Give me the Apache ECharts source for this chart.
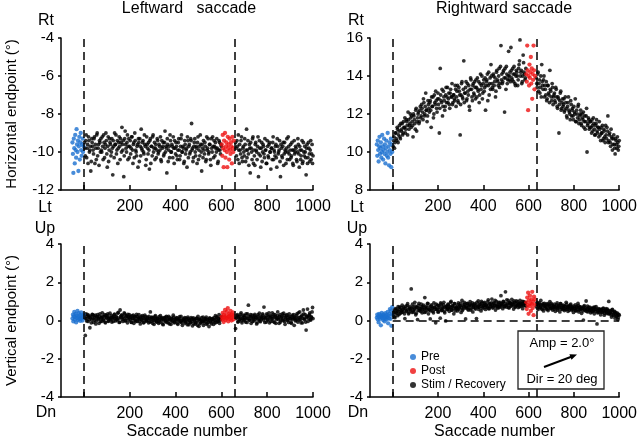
<!DOCTYPE html>
<html>
<head>
<meta charset="utf-8">
<script src="https://cdn.jsdelivr.net/npm/echarts@6/dist/echarts.min.js"></script>
<style>
  html, body { margin: 0; padding: 0; background: #fff; }
  #chart { width: 640px; height: 444px; }
</style>
</head>
<body>
<div id="chart"></div>
<script>
// saccade numbers used on the x axes
var xTicks = [0, 200, 400, 600, 800, 1000];
var xTickLabels = [200, 400, 600, 800, 1000];

// ---- Leftward saccade, horizontal endpoint (deg) ----
// pre: saccades -50..-2 (every 2nd), post: 602..654 (every 2nd)
var leftHPre = [-9.5,-10.1,-11.1,-9.3,-9.8,-10.6,-9.1,-9.9,-10.3,-8.8,-9.6,-10.0,-9.4,-11.0,-9.7,-9.2,-10.4,-9.5,-9.0,-9.9,-10.2,-9.6,-9.3,-10.0,-9.7];
var leftHPost = [-9.6,-10.2,-9.1,-9.8,-10.8,-9.4,-9.9,-9.0,-10.3,-9.7,-9.5,-10.0,-10.8,-9.2,-9.8,-9.6,-10.4,-9.3,-9.9,-10.1,-9.5,-9.7,-10.6,-9.2,-9.8,-10.0,-9.4];
// stim: saccades 2..598 (every 4th); stim2: 4..600; recovery: 662..998; recovery2: 664..1000
var leftHStim = [
  -9.5,-10.2,-9.1,-9.8,-10.6,-9.4,-9.9,-11.0,-9.3,-9.7,
  -10.1,-9.2,-9.6,-10.4,-9.0,-9.8,-10.7,-9.5,-9.3,-10.0,
  -9.7,-9.1,-10.3,-9.6,-9.4,-10.8,-9.2,-9.9,-9.5,-10.2,
  -9.3,-11.2,-9.7,-9.0,-9.6,-10.1,-9.4,-9.8,-9.2,-10.4,
  -9.5,-8.7,-9.9,-11.3,-9.3,-9.6,-10.0,-9.1,-9.7,-10.3,
  -9.4,-9.8,-9.2,-10.6,-9.5,-9.0,-9.9,-10.2,-9.6,-9.3,
  -10.5,-9.7,-8.8,-9.9,-9.4,-10.1,-9.6,-10.7,-9.2,-9.8,
  -9.5,-10.9,-9.3,-9.7,-10.2,-9.1,-9.8,-10.4,-9.6,-9.9,
  -9.4,-10.0,-9.7,-9.2,-10.5,-9.8,-9.5,-10.1,-8.9,-9.7,
  -11.1,-9.6,-9.9,-10.3,-9.4,-10.0,-9.7,-9.2,-10.6,-9.8,
  -9.5,-10.2,-9.9,-9.3,-10.4,-9.7,-9.1,-10.0,-9.8,-10.5,
  -9.6,-9.9,-10.8,-9.4,-9.7,-10.1,-9.3,-8.5,-9.8,-10.3,
  -9.5,-10.0,-9.7,-10.6,-9.2,-9.9,-10.2,-9.6,-11.0,-9.8,
  -9.4,-10.1,-9.7,-10.4,-9.9,-9.3,-10.0,-9.6,-10.7,-9.8,
  -9.2,-10.3,-9.7,-9.5,-10.0,-9.8,-10.5,-9.4,-9.9,-9.6
];
var leftHStim2 = [
  -9.8,-9.4,-10.3,-9.6,-9.2,-10.0,-9.7,-10.5,-9.5,-9.9,
  -9.3,-10.6,-9.8,-9.1,-10.2,-9.6,-9.4,-10.0,-9.9,-9.2,
  -10.4,-9.5,-9.8,-9.0,-10.1,-9.7,-10.5,-9.3,-9.6,-10.0,
  -9.8,-9.4,-10.3,-9.6,-9.1,-9.9,-10.6,-9.5,-9.7,-9.3,
  -10.0,-9.6,-9.4,-10.2,-8.9,-9.8,-9.5,-10.4,-9.3,-9.7,
  -10.1,-9.2,-9.9,-9.6,-10.3,-9.4,-10.0,-9.7,-10.8,-9.5,
  -9.3,-10.2,-9.8,-9.5,-10.0,-9.1,-9.7,-10.4,-9.6,-10.1,
  -9.9,-9.4,-10.6,-9.7,-9.2,-10.0,-9.5,-9.8,-10.3,-9.3,
  -10.1,-9.6,-9.9,-10.4,-9.4,-9.7,-10.2,-9.5,-10.0,-9.8,
  -9.3,-10.5,-9.7,-9.1,-10.0,-9.6,-10.3,-9.8,-9.4,-10.1,
  -9.7,-10.4,-9.5,-9.9,-10.2,-9.3,-10.0,-9.7,-10.6,-9.4,
  -10.1,-9.8,-9.2,-10.3,-9.6,-10.0,-9.4,-9.9,-10.5,-9.7,
  -9.3,-10.2,-9.8,-9.5,-10.4,-9.7,-9.1,-10.0,-9.6,-10.3,
  -9.9,-9.5,-10.5,-9.2,-9.8,-10.1,-9.6,-10.4,-9.3,-10.0,
  -9.7,-9.4,-10.2,-9.8,-9.3,-10.6,-9.9,-9.5,-10.1,-9.7
];
var leftHRec = [
  -9.5,-10.2,-9.7,-9.1,-10.6,-9.9,-9.4,-10.3,-9.8,-10.0,
  -9.3,-10.5,-8.8,-9.9,-10.1,-9.6,-11.1,-9.8,-10.4,-9.2,
  -9.9,-10.7,-9.5,-10.0,-9.7,-11.3,-9.4,-10.2,-9.8,-10.5,
  -9.6,-10.1,-9.3,-9.9,-10.6,-9.7,-10.3,-9.5,-10.0,-9.8,
  -10.4,-9.2,-9.9,-10.2,-9.6,-10.8,-9.7,-10.0,-9.4,-11.3,
  -9.8,-10.3,-9.5,-10.1,-9.9,-10.6,-9.3,-10.0,-9.7,-10.4,
  -9.6,-10.2,-9.9,-10.7,-9.4,-10.0,-9.8,-10.5,-9.3,-10.1,
  -9.7,-10.4,-9.9,-10.6,-9.5,-10.2,-10.0,-11.2,-9.6,-10.3,
  -9.8,-10.5,-9.4,-10.1,-10.6
];
var leftHRec2 = [
  -9.8,-9.4,-10.4,-9.9,-9.6,-10.1,-9.2,-10.5,-9.7,-10.2,
  -9.6,-9.9,-10.3,-9.4,-10.7,-9.8,-9.5,-10.0,-9.3,-10.6,
  -10.2,-9.6,-9.9,-10.4,-9.2,-10.1,-9.8,-10.8,-9.5,-10.0,
  -9.7,-10.3,-9.9,-10.6,-9.4,-10.2,-9.6,-10.0,-10.9,-9.8,
  -9.5,-10.4,-10.0,-9.7,-10.3,-9.3,-10.1,-9.9,-10.5,-9.6,
  -10.2,-9.7,-10.7,-9.5,-10.0,-9.8,-10.4,-9.2,-10.1,-9.9,
  -10.3,-9.5,-10.6,-9.9,-10.1,-9.7,-10.4,-10.0,-9.6,-10.8,
  -9.9,-10.2,-9.4,-10.5,-10.0,-9.7,-10.3,-9.8,-10.6,-9.5,
  -10.1,-9.9,-10.4,-9.6,-10.2
];

// ---- Rightward saccade, horizontal endpoint (deg) ----
// pre: saccades -70..-2 (every 2nd), post: 590..628 (every 2nd)
var rightHPre = [10.4,9.8,10.6,10.1,9.5,10.3,10.8,9.9,10.2,10.5,9.7,10.0,10.9,10.3,9.6,10.1,10.7,9.9,10.4,9.4,10.2,10.6,9.8,10.0,11.0,9.7,10.3,9.3,10.5,10.1,9.9,10.7,9.2,10.4,10.0];
var rightHPost = [14.1,13.7,15.6,14.3,12.2,14.0,13.5,14.6,13.9,14.2,15.0,13.6,14.4,12.8,14.1,13.8,15.6,14.3,13.3,14.0];
// stim: 2..586, stim2: 4..588, recovery: 634..998, recovery2: 636..1000 (every 4th)
var rightHStim = [
  10.3,10.8,10.5,11.0,10.6,11.2,10.9,11.4,10.7,11.1,
  11.5,11.0,11.3,11.8,11.2,11.6,10.9,11.7,11.4,12.0,
  11.3,11.6,10.8,11.9,11.5,12.2,11.1,11.8,12.1,11.6,
  12.4,11.9,12.3,11.7,12.6,12.0,13.1,12.2,11.9,12.5,
  12.1,12.7,11.3,12.4,12.9,12.0,12.6,13.2,12.3,12.8,
  12.5,11.0,14.4,12.7,13.3,12.4,12.9,12.2,13.0,12.6,
  13.4,12.8,12.5,13.1,12.9,13.6,12.6,13.0,12.7,13.3,
  12.9,13.5,12.6,13.2,10.9,13.0,13.7,12.8,14.8,13.1,
  13.4,12.7,13.6,13.0,12.4,13.3,13.8,12.9,13.5,13.1,
  13.7,12.8,13.4,13.9,13.2,12.6,13.6,13.3,14.0,13.1,
  13.8,13.4,12.2,13.7,14.1,13.5,13.0,13.9,14.6,13.6,
  13.3,14.0,13.7,12.9,14.2,13.8,13.5,14.4,13.6,15.6,
  14.1,13.7,14.3,12.1,13.9,14.5,13.6,14.0,13.8,14.2,
  15.5,13.9,14.4,13.7,14.1,13.5,14.3,14.0,13.8,14.6,
  15.9,14.2,13.6,14.0,14.7,14.1,13.9
];
var rightHStim2 = [
  10.6,10.2,11.0,10.7,11.3,10.5,11.1,10.8,11.5,11.2,
  10.9,11.6,11.3,11.0,11.7,11.4,12.1,11.2,11.5,11.8,
  11.9,11.4,12.0,11.7,11.2,12.3,11.6,12.0,11.5,12.2,
  11.8,12.5,12.1,12.8,11.9,12.4,12.2,11.6,12.7,12.3,
  12.6,12.2,12.9,12.4,11.8,13.0,12.5,12.7,12.1,13.1,
  12.8,12.3,13.0,12.6,11.9,13.2,12.7,12.4,13.4,12.9,
  12.6,13.1,12.3,13.3,12.9,12.5,13.0,12.8,13.5,12.4,
  13.2,12.7,13.4,13.0,12.5,13.6,12.9,13.3,12.6,13.1,
  13.7,12.8,13.2,13.5,12.2,13.9,13.3,12.7,13.6,13.0,
  13.4,13.8,12.9,13.3,13.7,13.0,14.1,13.5,12.8,13.6,
  13.2,13.9,13.5,13.8,12.7,14.2,13.6,13.3,14.0,13.4,
  14.1,13.5,13.9,13.2,14.3,13.7,14.0,13.4,14.5,13.8,
  13.6,14.2,13.9,14.4,13.3,14.1,13.8,15.3,14.0,13.7,
  14.3,13.8,14.1,14.5,13.6,14.0,14.2,13.5,14.4,14.8,
  14.0,14.3,13.7,15.1,14.2,13.8,14.4
];
var rightHRec = [
  13.9,13.4,14.2,13.6,13.1,14.0,14.6,13.5,13.8,12.9,
  13.3,13.7,12.8,13.5,13.0,14.3,13.2,12.7,13.4,12.9,
  13.1,12.6,13.3,12.4,12.9,11.0,12.7,13.2,12.3,12.8,
  12.5,12.1,12.9,12.3,11.8,12.6,12.2,12.0,12.7,11.9,
  12.3,11.7,12.1,12.8,11.6,12.0,12.4,11.5,11.9,12.2,
  11.4,11.8,12.1,11.6,11.2,11.9,10.0,11.5,11.7,11.3,
  11.6,11.0,11.4,11.8,11.2,10.9,11.5,11.1,11.3,10.8,
  11.2,10.6,11.0,11.4,10.7,11.1,10.5,10.9,11.3,11.9,
  10.6,11.0,10.3,10.8,10.1,10.7,10.4,9.9,10.6,10.2,
  10.5,10.3
];
var rightHRec2 = [
  13.6,14.1,13.2,13.8,13.4,12.9,13.7,13.3,14.0,13.5,
  13.0,12.7,13.5,13.1,12.6,13.3,12.9,13.6,12.5,13.0,
  12.7,13.4,12.9,12.3,12.8,12.5,13.1,12.2,12.6,12.4,
  12.8,12.2,12.6,11.9,12.4,12.9,12.1,11.7,12.5,12.2,
  11.9,12.4,12.0,11.6,12.2,11.8,12.5,11.7,12.0,11.5,
  12.0,11.7,11.3,11.9,11.6,12.3,11.4,11.8,11.2,11.6,
  11.3,11.7,11.1,11.5,10.9,11.4,11.7,11.0,11.3,11.6,
  10.9,11.3,11.0,10.6,11.2,10.8,11.4,10.7,11.1,10.5,
  10.9,10.5,11.2,10.7,10.4,10.9,10.2,10.7,10.4,10.8,
  10.1,10.6
];

// ---- Leftward saccade, vertical endpoint (deg) ----
var leftVPre = [0.10,0.30,-0.05,0.22,0.45,0.05,0.18,0.35,-0.10,0.25,0.12,0.50,0.02,0.20,0.38,0.08,0.28,-0.02,0.15,0.42,0.10,0.25,0.00,0.18,0.32];
var leftVPost = [0.20,0.05,0.40,0.12,-0.08,0.30,0.18,0.55,0.02,0.25,0.10,0.45,0.15,0.65,-0.05,0.22,0.35,0.08,0.28,0.50,0.12,0.00,0.32,0.18,0.42,0.05,0.25];
var leftVStim = [
  0.25,-0.78,0.10,0.32,-0.05,0.18,-0.38,0.22,0.05,0.30,
  -0.10,0.15,0.28,-0.02,0.20,0.08,-0.15,0.35,0.12,-0.05,
  0.22,0.02,0.30,-0.12,0.15,0.25,-0.04,0.10,0.38,0.05,
  -0.08,0.20,0.12,0.33,-0.02,0.18,0.06,0.42,-0.10,0.55,
  0.15,0.28,-0.05,0.10,0.35,0.00,0.22,-0.12,0.18,0.30,
  0.05,-0.08,0.25,0.12,-0.15,0.20,0.02,0.32,-0.05,0.14,
  0.08,-0.18,0.22,0.00,0.15,-0.10,0.28,0.05,-0.02,0.18,
  -0.12,0.10,0.45,-0.05,0.15,0.02,-0.20,0.20,0.08,-0.08,
  0.12,-0.15,0.05,0.25,-0.02,0.10,-0.22,0.15,0.00,0.18,
  -0.10,0.06,0.22,-0.18,0.02,0.12,-0.05,0.28,-0.12,0.08,
  -0.02,0.15,-0.20,0.05,0.20,-0.08,0.00,-0.25,0.10,0.02,
  -0.15,0.12,-0.05,0.18,-0.22,0.03,-0.10,0.08,-0.28,0.14,
  0.00,-0.18,0.10,-0.08,0.22,-0.30,0.05,-0.12,0.15,-0.02,
  -0.25,0.08,-0.05,0.18,-0.15,0.02,-0.32,0.12,-0.08,0.05,
  0.10,-0.20,0.02,0.25,-0.10,0.15,-0.05,0.30,0.00,0.12
];
var leftVStim2 = [
  0.12,0.35,-0.02,0.20,0.28,0.05,0.15,-0.12,0.32,0.10,
  0.25,0.02,-0.18,0.18,0.30,0.08,0.22,-0.05,0.15,0.40,
  0.05,0.20,-0.08,0.28,0.12,0.35,-0.02,0.18,0.08,0.25,
  0.15,-0.05,0.30,0.10,0.22,0.02,0.38,0.12,-0.08,0.20,
  0.28,0.05,0.18,0.40,-0.02,0.25,0.12,0.32,0.02,0.15,
  0.20,-0.10,0.10,0.28,0.00,0.18,-0.05,0.22,0.08,0.30,
  -0.05,0.15,0.05,0.25,-0.12,0.10,0.20,-0.02,0.12,0.02,
  0.22,-0.08,0.08,0.18,-0.15,0.12,0.00,0.25,-0.05,0.10,
  -0.02,0.20,-0.10,0.08,0.15,-0.18,0.05,0.12,-0.05,0.22,
  0.02,-0.12,0.15,0.05,-0.20,0.10,0.00,0.18,-0.08,0.05,
  0.12,-0.15,0.02,0.10,-0.05,0.22,-0.12,0.05,-0.02,0.15,
  -0.08,0.05,-0.22,0.10,0.00,-0.12,0.15,-0.05,0.08,-0.18,
  0.05,-0.10,0.12,-0.25,0.02,0.08,-0.15,0.00,-0.05,0.18,
  -0.12,0.02,0.10,-0.20,0.05,-0.08,0.12,-0.02,-0.18,0.08,
  -0.05,0.15,-0.12,0.05,0.20,-0.02,0.10,-0.15,0.08,0.22
];
var leftVRec = [
  -0.42,0.15,0.30,-0.05,0.22,0.08,0.40,-0.12,0.18,0.05,
  0.25,-0.08,0.12,0.35,0.80,0.02,0.20,-0.15,0.28,0.10,
  -0.02,0.32,0.15,-0.18,0.22,0.05,0.38,-0.06,0.18,0.12,
  0.28,0.70,-0.10,0.15,0.35,0.02,0.20,-0.12,0.25,0.08,
  0.40,-0.05,0.18,0.30,-0.15,0.12,0.45,0.05,0.22,-0.08,
  0.15,0.35,0.00,0.25,-0.20,0.10,0.30,0.05,-0.10,0.20,
  0.08,-0.15,0.28,0.12,-0.25,0.18,0.02,0.35,-0.08,0.15,
  0.45,0.05,0.22,-0.12,0.55,0.10,0.30,-0.50,0.18,-0.05,
  0.25,0.40,0.02,0.15,0.68
];
var leftVRec2 = [
  0.10,0.25,-0.08,0.18,0.05,0.32,-0.02,0.12,0.28,0.00,
  0.15,0.35,-0.10,0.08,0.22,0.02,0.30,0.12,-0.05,0.18,
  0.25,0.05,0.15,-0.12,0.30,0.10,-0.02,0.22,0.08,0.35,
  0.02,0.18,0.12,-0.08,0.28,0.05,0.40,0.15,-0.05,0.22,
  0.10,0.32,-0.10,0.20,0.05,0.25,0.12,-0.15,0.30,0.02,
  0.22,0.08,0.38,-0.05,0.15,0.25,0.00,0.18,0.35,0.10,
  -0.10,0.20,0.05,0.30,0.12,-0.02,0.25,0.08,0.40,0.02,
  0.18,-0.12,0.28,0.10,0.35,0.05,-0.08,0.22,0.60,0.12,
  0.30,0.05,0.20,0.45,0.10
];

// ---- Rightward saccade, vertical endpoint (deg) ----
var rightVPre = [0.15,0.30,0.05,0.22,-0.10,0.35,0.18,0.08,0.28,-0.25,0.20,0.40,0.12,0.25,0.02,0.32,0.15,-0.05,0.22,0.38,0.10,0.28,0.05,0.18,0.45,-0.15,0.25,0.12,0.35,0.60,0.08,0.50,-0.28,0.30,0.70];
var rightVPost = [0.95,0.60,1.20,0.80,1.45,0.35,1.05,0.75,1.30,0.90,0.50,1.10,0.85,1.50,0.65,1.00,0.28,1.25,0.82,1.10];
var rightVStim = [
  0.30,0.55,0.15,0.42,0.60,0.25,0.48,0.70,0.38,0.52,
  0.80,0.45,0.62,0.10,0.75,0.50,0.88,0.35,0.65,0.58,
  1.65,0.42,0.70,0.55,0.95,0.30,0.68,0.05,0.78,0.52,
  0.62,0.85,0.40,0.72,0.58,1.20,0.45,0.66,0.90,0.35,
  0.55,0.08,0.75,0.62,0.48,0.92,0.68,-0.12,0.58,0.80,
  0.45,0.70,0.12,0.85,0.55,0.65,0.95,0.40,-0.02,0.72,
  0.60,0.82,0.48,0.68,1.00,0.55,0.75,0.35,0.88,0.62,
  0.70,0.50,0.92,0.65,0.78,0.42,1.05,0.60,0.72,0.85,
  0.08,0.68,0.90,0.55,0.78,0.98,0.62,0.82,0.45,0.72,
  0.88,0.60,0.10,0.75,1.02,0.68,0.85,0.50,0.92,0.70,
  0.78,0.95,0.58,0.82,0.70,1.08,0.62,0.88,0.75,1.12,
  0.65,0.92,0.78,0.55,1.00,0.72,0.85,0.68,0.95,1.30,
  0.80,0.62,0.98,0.75,1.50,0.70,0.88,1.05,0.66,0.92,
  0.78,1.10,0.85,0.60,0.95,0.72,1.02,0.82,0.68,0.90,
  1.05,0.75,0.88,0.62,0.98,0.80,0.92
];
var rightVStim2 = [
  0.45,0.20,0.62,0.38,0.50,0.72,0.32,0.58,0.68,0.42,
  0.55,0.70,0.35,0.62,0.48,0.78,0.58,0.40,0.72,0.50,
  0.65,0.85,0.45,0.60,0.75,0.38,0.68,0.52,0.90,0.62,
  0.48,0.70,0.58,0.80,0.42,0.65,0.75,0.55,0.88,0.60,
  0.72,0.50,0.82,0.65,0.40,0.70,0.58,0.85,0.62,0.45,
  0.78,0.60,0.92,0.52,0.70,0.82,0.48,0.68,0.75,0.58,
  0.85,0.62,0.72,0.95,0.55,0.78,0.65,0.88,0.50,0.70,
  0.62,0.82,0.58,0.75,0.90,0.68,0.52,0.80,0.95,0.65,
  0.75,0.88,0.60,0.72,0.85,0.55,0.78,0.92,0.68,0.82,
  0.65,0.80,0.95,0.70,0.58,0.85,0.75,1.00,0.62,0.78,
  0.90,0.68,0.82,0.75,0.98,0.62,0.85,0.72,0.92,0.80,
  0.70,0.88,1.05,0.75,0.82,0.65,0.95,0.78,0.72,0.88,
  0.85,1.00,0.72,0.90,0.78,1.08,0.82,0.68,0.95,0.88,
  0.75,0.92,0.82,1.02,0.70,0.88,0.78,0.98,0.85,0.72,
  0.90,0.82,1.00,0.78,0.88,0.95,0.75
];
var rightVRec = [
  0.72,0.95,0.58,0.85,0.68,1.05,0.62,0.80,0.50,0.90,
  0.75,0.60,0.88,0.52,0.78,0.98,0.65,0.82,0.55,0.72,
  0.85,0.48,0.70,0.92,0.62,0.78,0.45,0.88,0.68,0.58,
  0.80,0.52,0.72,0.95,0.60,0.48,0.75,0.65,0.85,0.55,
  0.70,0.42,0.62,0.82,0.50,0.68,0.90,0.45,0.72,0.58,
  0.38,0.65,0.02,0.78,0.52,1.02,0.60,0.45,0.70,0.55,
  0.40,0.62,0.48,0.68,0.35,0.58,0.72,-0.18,0.50,0.42,
  0.60,0.30,0.55,0.45,0.65,0.28,0.50,0.62,0.38,0.52,
  1.00,0.35,0.48,0.18,0.58,0.30,0.45,0.12,0.40,0.25,
  0.05,0.32
];
var rightVRec2 = [
  0.85,0.65,0.78,0.92,0.70,0.82,0.58,0.88,0.75,0.65,
  0.82,0.70,0.60,0.85,0.72,0.62,0.90,0.68,0.78,0.60,
  0.72,0.65,0.82,0.55,0.75,0.68,0.88,0.60,0.78,0.70,
  0.62,0.75,0.58,0.85,0.68,0.72,0.55,0.80,0.62,0.70,
  0.58,0.75,0.65,0.52,0.72,0.60,0.78,0.55,0.65,0.70,
  0.62,0.50,0.72,0.58,0.65,0.48,0.75,0.60,0.52,0.68,
  0.55,0.45,0.62,0.52,0.70,0.48,0.58,0.40,0.62,0.55,
  0.48,0.58,0.42,0.62,0.50,0.38,0.55,0.45,0.60,0.35,
  0.52,0.40,0.30,0.55,0.42,0.25,0.48,0.35,0.22,0.38,
  0.15,0.28
];

var FONT = '"Liberation Sans", Arial, sans-serif';
var BLUE = '#1a6fd0';
var RED = '#ee1111';

// pair each value with its saccade number
function seq(start, step, ys) {
  return ys.map(function (y, i) { return [start + i * step, y]; });
}

var grids = [
  { left: 61, top: 38, width: 252, height: 152 },
  { left: 370, top: 38, width: 253, height: 152 },
  { left: 61, top: 244, width: 252, height: 153 },
  { left: 370, top: 244, width: 253, height: 153 }
];

function xAxisFor(i, withName) {
  return {
    type: 'value', gridIndex: i, min: -100, max: 1000,
    name: withName ? 'Saccade number' : '',
    nameLocation: 'middle', nameGap: 27,
    nameTextStyle: { fontFamily: FONT, fontSize: 16, color: '#000' },
    axisLine: { onZero: false, lineStyle: { color: '#000', width: 1.5 } },
    axisTick: { inside: true, length: 5, customValues: xTicks, lineStyle: { color: '#000', width: 1.5 } },
    axisLabel: {
      customValues: xTickLabels, margin: 9, fontFamily: FONT, fontSize: 16, color: '#000',
      formatter: function (v) { return String(v); }
    },
    splitLine: { show: false }
  };
}

function yAxisFor(i, min, max, name) {
  return {
    type: 'value', gridIndex: i, min: min, max: max, interval: 2,
    name: name, nameLocation: 'middle', nameRotate: 90, nameGap: 42,
    nameTextStyle: { fontFamily: FONT, fontSize: 15, color: '#000' },
    axisLine: { show: true, onZero: false, lineStyle: { color: '#000', width: 1.5 } },
    axisTick: { show: true, length: 3, lineStyle: { color: '#000', width: 1.5 } },
    axisLabel: { margin: 7, fontFamily: FONT, fontSize: 15, color: '#000' },
    splitLine: { show: false }
  };
}

function dashLines(xs, extra) {
  var data = xs.map(function (v) { return { xAxis: v }; });
  if (extra) data = data.concat(extra);
  return {
    silent: true, symbol: 'none', label: { show: false },
    lineStyle: { color: '#000', width: 1.5, type: [8, 5] },
    emphasis: { disabled: true },
    data: data
  };
}

// p: { stim, stim2, rec, rec2, recStart, pre, preStart, post, postStart }
function panel(i, p, lines, extra) {
  var black = seq(2, 4, p.stim).concat(seq(4, 4, p.stim2))
    .concat(seq(p.recStart, 4, p.rec)).concat(seq(p.recStart + 2, 4, p.rec2));
  return [
    {
      name: 'Stim / Recovery', type: 'scatter', xAxisIndex: i, yAxisIndex: i,
      symbolSize: 3.8, itemStyle: { color: '#000' },
      data: black,
      markLine: dashLines(lines, extra)
    },
    {
      name: 'Post', type: 'scatter', xAxisIndex: i, yAxisIndex: i,
      symbolSize: 4.3, itemStyle: { color: RED },
      data: seq(p.postStart, 2, p.post)
    },
    {
      name: 'Pre', type: 'scatter', xAxisIndex: i, yAxisIndex: i,
      symbolSize: 4.3, itemStyle: { color: BLUE },
      data: seq(p.preStart, 2, p.pre)
    }
  ];
}

function txt(text, x, y, size) {
  return {
    type: 'text', x: x, y: y, z: 10,
    style: { text: text, fontFamily: FONT, fontSize: size, fill: '#000', align: 'center', verticalAlign: 'middle' }
  };
}

var chart = echarts.init(document.getElementById('chart'), null, { renderer: 'canvas' });

var series = []
  .concat(panel(0, { stim: leftHStim, stim2: leftHStim2, rec: leftHRec, rec2: leftHRec2, recStart: 662,
    pre: leftHPre, preStart: -50, post: leftHPost, postStart: 602 }, [0, 660]))
  .concat(panel(1, { stim: rightHStim, stim2: rightHStim2, rec: rightHRec, rec2: rightHRec2, recStart: 634,
    pre: rightHPre, preStart: -70, post: rightHPost, postStart: 590 }, [0, 635]))
  .concat(panel(2, { stim: leftVStim, stim2: leftVStim2, rec: leftVRec, rec2: leftVRec2, recStart: 662,
    pre: leftVPre, preStart: -50, post: leftVPost, postStart: 602 }, [0, 660]))
  .concat(panel(3, { stim: rightVStim, stim2: rightVStim2, rec: rightVRec, rec2: rightVRec2, recStart: 634,
    pre: rightVPre, preStart: -70, post: rightVPost, postStart: 590 }, [0, 635],
    [[{ coord: [0, 0] }, { coord: [1000, 0] }]]));

chart.setOption({
  animation: false,
  backgroundColor: '#fff',
  grid: grids,
  xAxis: [xAxisFor(0, false), xAxisFor(1, false), xAxisFor(2, true), xAxisFor(3, true)],
  yAxis: [
    yAxisFor(0, -12, -4, 'Horizontal endpoint (°)'),
    yAxisFor(1, 8, 16, ''),
    yAxisFor(2, -4, 4, 'Vertical endpoint (°)'),
    yAxisFor(3, -4, 4, '')
  ],
  legend: {
    orient: 'vertical', left: 405, top: 346,
    itemWidth: 6, itemHeight: 6, itemGap: 2, itemTextGap: 9,
    icon: 'circle', selectedMode: false,
    textStyle: { fontFamily: FONT, fontSize: 12, color: '#000' },
    data: ['Pre', 'Post', 'Stim / Recovery']
  },
  graphic: [
    txt('Leftward   saccade', 189, 9, 16),
    txt('Rightward saccade', 504, 9, 16),
    txt('Rt', 46, 21, 16), txt('Lt', 45, 208, 16),
    txt('Up', 45, 229, 16), txt('Dn', 46, 413, 16),
    txt('Rt', 356, 21, 16), txt('Lt', 357, 208, 16),
    txt('Up', 357, 229, 16), txt('Dn', 358, 413, 16),
    {
      type: 'rect', z: 9, shape: { x: 518, y: 331, width: 86, height: 58 },
      style: { fill: '#fff', stroke: '#222', lineWidth: 1.3 }
    },
    txt('Amp = 2.0°', 562, 343, 13),
    txt('Dir = 20 deg', 562, 379, 13),
    {
      type: 'line', z: 10, shape: { x1: 544, y1: 367, x2: 572, y2: 356.5 },
      style: { stroke: '#000', lineWidth: 2 }
    },
    {
      type: 'polygon', z: 10, shape: { points: [[577, 354.5], [571.5, 359.8], [569.4, 354.2]] },
      style: { fill: '#000' }
    }
  ],
  series: series
});
</script>
</body>
</html>
